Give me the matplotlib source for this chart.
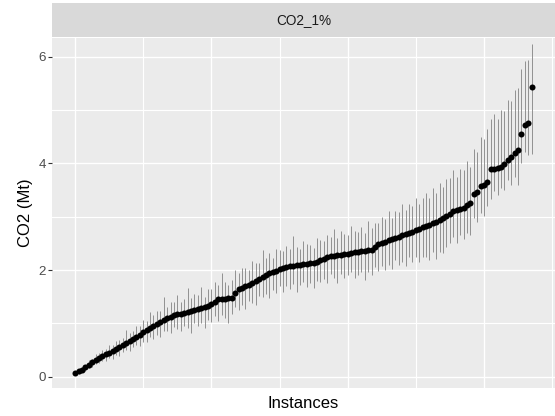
import matplotlib
matplotlib.use("Agg")
import matplotlib.pyplot as plt
import numpy as np

plt.rcParams['font.family'] = ['Liberation Sans', 'DejaVu Sans']

facet_title = "CO2_1%"
x_label = "Instances"
y_label = "CO2 (Mt)"
y_ticks = [0, 2, 4, 6]

means = [
    0.08, 0.10, 0.13, 0.18, 0.23, 0.27, 0.32, 0.36, 0.39, 0.42,
    0.45, 0.48, 0.52, 0.56, 0.60, 0.63, 0.68, 0.71, 0.74, 0.78,
    0.84, 0.88, 0.92, 0.96, 0.99, 1.03, 1.07, 1.10, 1.13, 1.15,
    1.17, 1.18, 1.19, 1.21, 1.23, 1.25, 1.27, 1.29, 1.30, 1.32,
    1.36, 1.41, 1.45, 1.46, 1.46, 1.47, 1.48, 1.58, 1.64, 1.67,
    1.70, 1.73, 1.76, 1.79, 1.84, 1.88, 1.91, 1.94, 1.96, 1.98,
    2.02, 2.04, 2.06, 2.07, 2.08, 2.09, 2.10, 2.11, 2.12, 2.13,
    2.13, 2.15, 2.18, 2.21, 2.24, 2.26, 2.27, 2.28, 2.29, 2.30,
    2.31, 2.32, 2.33, 2.34, 2.35, 2.36, 2.37, 2.38, 2.44, 2.49,
    2.51, 2.53, 2.56, 2.58, 2.60, 2.62, 2.65, 2.68, 2.70, 2.72,
    2.75, 2.77, 2.80, 2.83, 2.85, 2.88, 2.90, 2.93, 2.97, 3.02,
    3.06, 3.10, 3.13, 3.15, 3.17, 3.22, 3.25, 3.42, 3.47, 3.57,
    3.60, 3.66, 3.89, 3.90, 3.91, 3.93, 3.98, 4.06, 4.12, 4.19,
    4.26, 4.55, 4.72, 4.75, 5.43,
]

err_up = [
    0.03, 0.04, 0.06, 0.05, 0.08, 0.07, 0.10, 0.09, 0.12, 0.10,
    0.14, 0.11, 0.16, 0.13, 0.12, 0.24, 0.15, 0.14, 0.22, 0.17,
    0.22, 0.16, 0.30, 0.19, 0.24, 0.21, 0.42, 0.20, 0.28, 0.25,
    0.36, 0.22, 0.27, 0.45, 0.24, 0.30, 0.26, 0.40, 0.20, 0.32,
    0.29, 0.36, 0.27, 0.48, 0.31, 0.25, 0.34, 0.43, 0.30, 0.36,
    0.33, 0.28, 0.41, 0.35, 0.30, 0.50, 0.32, 0.38, 0.26, 0.42,
    0.36, 0.31, 0.40, 0.33, 0.56, 0.35, 0.30, 0.43, 0.37, 0.34,
    0.28, 0.45, 0.39, 0.33, 0.41, 0.36, 0.50, 0.32, 0.44, 0.38,
    0.35, 0.50, 0.40, 0.37, 0.46, 0.34, 0.55, 0.41, 0.45, 0.39,
    0.48, 0.43, 0.55, 0.40, 0.50, 0.46, 0.58, 0.44, 0.53, 0.49,
    0.60, 0.47, 0.56, 0.62, 0.51, 0.66, 0.55, 0.70, 0.58, 0.68,
    0.66, 0.78, 0.62, 0.74, 0.70, 0.82, 0.68, 0.85, 0.75, 0.92,
    0.86, 0.98, 0.95, 1.02, 0.92, 1.08, 1.00, 1.12, 1.05, 1.18,
    1.16, 1.22, 1.20, 1.18, 0.80,
]

err_down = [
    0.03, 0.05, 0.04, 0.07, 0.06, 0.09, 0.08, 0.11, 0.09, 0.13,
    0.10, 0.15, 0.12, 0.17, 0.14, 0.13, 0.19, 0.16, 0.15, 0.21,
    0.18, 0.23, 0.17, 0.26, 0.20, 0.29, 0.22, 0.25, 0.31, 0.21,
    0.27, 0.33, 0.24, 0.29, 0.40, 0.25, 0.32, 0.28, 0.38, 0.26,
    0.34, 0.27, 0.40, 0.30, 0.36, 0.46, 0.31, 0.28, 0.38, 0.33,
    0.42, 0.30, 0.37, 0.44, 0.32, 0.39, 0.35, 0.47, 0.33, 0.40,
    0.31, 0.45, 0.36, 0.42, 0.34, 0.50, 0.38, 0.33, 0.44, 0.37,
    0.46, 0.35, 0.41, 0.38, 0.49, 0.34, 0.42, 0.52, 0.37, 0.45,
    0.40, 0.36, 0.48, 0.43, 0.39, 0.54, 0.41, 0.47, 0.38, 0.50,
    0.44, 0.52, 0.47, 0.56, 0.42, 0.53, 0.49, 0.60, 0.45, 0.57,
    0.51, 0.62, 0.55, 0.58, 0.66, 0.54, 0.70, 0.60, 0.65, 0.58,
    0.55, 0.48, 0.62, 0.50, 0.58, 0.52, 0.60, 0.45, 0.56, 0.50,
    0.58, 0.46, 0.55, 0.42, 0.50, 0.40, 0.48, 0.38, 0.52, 0.45,
    0.66, 0.55, 0.50, 0.60, 1.26,
]

means = np.array(means)
lo = means - np.array(err_down)
hi = means + np.array(err_up)
x = np.arange(len(means))

W, H = 555, 416
fig = plt.figure(figsize=(W / 100, H / 100), dpi=100)
px_left, px_right, px_top, px_bottom = 52.3, 554.5, 37.5, 388.0
ax = fig.add_axes([px_left / W, 1 - px_bottom / H,
                   (px_right - px_left) / W, (px_bottom - px_top) / H])
ax.set_facecolor('#EBEBEB')
for s in ax.spines.values():
    s.set_visible(False)

ax.vlines(x, lo, hi, color='#8A8A8A', lw=0.65, zorder=3)
ax.scatter(x, means, s=19, color='black', zorder=4, linewidths=0)

n = len(means)
pad = 0.05 * (n - 1)
ax.set_xlim(-pad, n - 1 + pad)
ax.set_ylim(-0.21, 6.36)

ax.set_xticks([0, 40, 80, 120])
ax.set_xticks([20, 60, 100, 140], minor=True)
ax.set_yticks(y_ticks)
ax.set_yticks([1, 3, 5], minor=True)
ax.grid(which='major', color='white', lw=0.95, zorder=0)
ax.grid(which='minor', color='white', lw=0.8, zorder=0)
ax.set_axisbelow(True)

ax.tick_params(axis='x', which='both', length=0, labelbottom=False)
ax.tick_params(axis='y', which='major', length=2.6, width=0.8, color='#333333',
               labelsize=9.6, labelcolor='#4D4D4D', pad=2)
ax.tick_params(axis='y', which='minor', length=0)

ax.set_xlabel(x_label, fontsize=12, color='black', labelpad=6)
ax.set_ylabel(y_label, fontsize=12, color='black', labelpad=4)

# facet strip
strip_top, strip_bot = 2.7, 37.0
sax = fig.add_axes([px_left / W, 1 - strip_bot / H,
                    (px_right - px_left) / W, (strip_bot - strip_top) / H])
sax.set_facecolor('#D9D9D9')
sax.set_xticks([]); sax.set_yticks([])
for s in sax.spines.values():
    s.set_visible(False)
sax.text(0.5, 0.5, facet_title, ha='center', va='center', fontsize=9.8,
         color='#1A1A1A', transform=sax.transAxes)

fig.savefig('out.png', dpi=100)
